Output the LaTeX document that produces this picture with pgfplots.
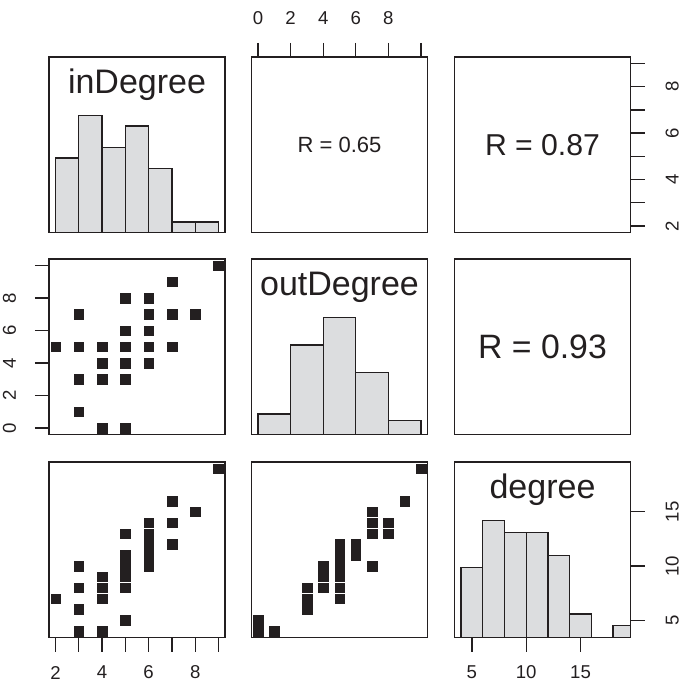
\documentclass[border=0pt]{standalone}
\usepackage{fontspec}
\setmainfont{Liberation Sans}
\usepackage{pgfplots}
\usepackage{pgfplotstable}
\pgfplotsset{compat=1.18}

\definecolor{ink}{RGB}{35,31,32}
\definecolor{histfill}{RGB}{220,221,223}

% one row per distinct (inDegree, outDegree, degree) node
\pgfplotstableread{
in out deg
2 5 7
3 1 4
3 3 6
3 5 8
3 7 10
4 0 4
4 3 7
4 4 8
4 5 9
5 0 5
5 3 8
5 4 9
5 5 10
5 6 11
5 8 13
6 4 10
6 5 11
6 6 12
6 7 13
6 8 14
7 5 12
7 7 14
7 9 16
8 7 15
9 10 19
}\nodes

% histogram counts, left break of each bin
\pgfplotstableread{
lo n
2 7
3 11
4 8
5 10
6 6
7 1
8 1
9 0
}\histin

\pgfplotstableread{
lo n
0 3
2 13
4 17
6 9
8 2
10 0
}\histout

\pgfplotstableread{
lo n
4 6
6 10
8 9
10 9
12 7
14 2
16 0
18 1
20 0
}\histdeg

\tikzset{
  varname/.style={font=\fontsize{34}{36}\selectfont, text=ink, anchor=base},
}

\pgfplotsset{
  panel/.style={
    scale only axis, width=176pt, height=175.5pt, anchor=north west,
    axis line style={line width=1.3pt, ink},
    every tick/.style={line width=1.3pt, ink},
    tick align=outside, major tick length=14pt,
    xtick=\empty, ytick=\empty,
    /pgf/number format/assume math mode=true,
    tick label style={font=\fontsize{18.6}{20}\selectfont, text=ink, inner sep=0pt},
  },
  bottomticks/.style={xtick pos=left, xticklabel style={anchor=center, yshift=-21pt}},
  topticks/.style={xtick pos=right, xticklabel style={anchor=center, yshift=24.7pt}},
  leftticks/.style={ytick pos=left, yticklabel style={xshift=-25.5pt, rotate=90, anchor=center}},
  rightticks/.style={ytick pos=right, yticklabel style={xshift=27.7pt, rotate=90, anchor=center}},
  inX/.style={xmin=1.72, xmax=9.28},
  inY/.style={ymin=1.72, ymax=9.28},
  outX/.style={xmin=-0.4, xmax=10.4},
  outY/.style={ymin=-0.4, ymax=10.4},
  degX/.style={xmin=3.4, xmax=19.6},
  degY/.style={ymin=3.4, ymax=19.6},
  hist/.style={ybar interval, fill=histfill, draw=ink, line width=1.3pt},
  pts/.style={only marks, mark=square*, mark size=4.8pt, ink},
}

\begin{document}
\begin{tikzpicture}
\path[use as bounding box] (0,0) rectangle (685pt,-687pt);

% row 1
\begin{axis}[panel, at={(49pt,-57pt)}, inX, ymin=0, ymax=16.5]
  \addplot[hist] table[x=lo, y=n] {\histin};
  \node[varname] at (rel axis cs:0.5,0.79) {inDegree};
\end{axis}
\begin{axis}[panel, at={(251.5pt,-57pt)}, outX, inY, topticks,
    xtick={0,2,4,6,8}, extra x ticks={10}, extra x tick labels={}]
  \node[font=\fontsize{22}{24}\selectfont, text=ink] at (rel axis cs:0.5,0.5) {R = 0.65};
\end{axis}
\begin{axis}[panel, at={(454.5pt,-57pt)}, degX, inY, rightticks,
    ytick={2,4,6,8}, extra y ticks={3,5,7,9}, extra y tick labels={}]
  \node[font=\fontsize{30.2}{32}\selectfont, text=ink] at (rel axis cs:0.5,0.5) {R = 0.87};
\end{axis}

% row 2
\begin{axis}[panel, at={(49pt,-259pt)}, inX, outY, leftticks,
    ytick={0,2,4,6,8}, extra y ticks={10}, extra y tick labels={}]
  \addplot[pts] table[x=in, y=out] {\nodes};
\end{axis}
\begin{axis}[panel, at={(251.5pt,-259pt)}, outX, ymin=0, ymax=25.5]
  \addplot[hist] table[x=lo, y=n] {\histout};
  \node[varname] at (rel axis cs:0.5,0.79) {outDegree};
\end{axis}
\begin{axis}[panel, at={(454.5pt,-259pt)}, degX, outY]
  \node[font=\fontsize{33.8}{36}\selectfont, text=ink] at (rel axis cs:0.5,0.5) {R = 0.93};
\end{axis}

% row 3
\begin{axis}[panel, at={(49pt,-462pt)}, inX, degY, bottomticks,
    xtick={2,4,6,8}, extra x ticks={3,5,7,9}, extra x tick labels={}]
  \addplot[pts] table[x=in, y=deg] {\nodes};
\end{axis}
\begin{axis}[panel, at={(251.5pt,-462pt)}, outX, degY]
  \addplot[pts] table[x=out, y=deg] {\nodes};
\end{axis}
\begin{axis}[panel, at={(454.5pt,-462pt)}, degX, ymin=0, ymax=15, bottomticks,
    xtick={5,10,15}]
  \addplot[hist] table[x=lo, y=n] {\histdeg};
  \node[varname] at (rel axis cs:0.5,0.79) {degree};
\end{axis}
\begin{axis}[panel, at={(454.5pt,-462pt)}, degX, degY, rightticks,
    ytick={5,10,15}]
\end{axis}
\end{tikzpicture}
\end{document}
